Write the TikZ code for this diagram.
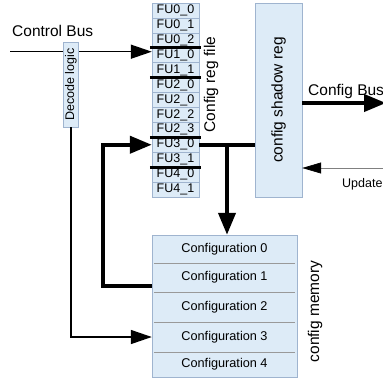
\documentclass[tikz,border=0pt]{standalone}
\usepackage{fontspec}
\setmainfont{Liberation Sans}
\usetikzlibrary{arrows.meta,positioning,calc}
\definecolor{cellfill}{HTML}{DDEBF7}
\definecolor{celldraw}{HTML}{9FB4CF}

\begin{document}
\begin{tikzpicture}[
    x=1pt, y=-1pt,
    cell/.style={rectangle, draw=celldraw, fill=cellfill, inner sep=0pt, minimum width=47pt, minimum height=14.92pt, font=\fontsize{12.5}{14}\selectfont},
    block/.style={rectangle, draw=celldraw, fill=cellfill, inner sep=0pt},
    memrow/.style={rectangle, inner sep=0pt, minimum width=145pt, font=\fontsize{12.7}{14}\selectfont},
    bigtext/.style={font=\fontsize{15.5}{18}\selectfont, inner sep=0pt},
    smalltext/.style={font=\fontsize{12.5}{14}\selectfont, inner sep=0pt},
    regsep/.style={line width=3pt},
    memsep/.style={draw=gray!80, line width=0.8pt},
    thinarrow/.style={-{Triangle[length=21pt,width=14pt]}, line width=1.5pt},
    thickline/.style={line width=4pt},
    thickarrow/.style={thickline, -{Triangle[length=22pt,width=17pt]}},
    updarrow/.style={draw=gray, line width=0.7pt, -{Triangle[length=19pt,width=11pt,black]}},
]
\useasboundingbox (0,0) rectangle (383,378);
\clip (0,0) rectangle (383,378);

% Config register file
\foreach \name [count=\i from 0] in {FU0\_0, FU0\_1, FU0\_2, FU1\_0, FU1\_1, FU2\_0, FU2\_0, FU2\_2, FU2\_3, FU3\_0, FU3\_1, FU4\_0, FU4\_1}
    \node[cell] (reg\i) at (175.5, {3+14.92*(\i+0.5)}) {\name};
\foreach \i in {2,4,8,10}
    \draw[regsep] ([xshift=-2pt]reg\i.south west) -- ([xshift=2pt]reg\i.south east);
\node[bigtext, rotate=90] (regtext) at (211,84.5) {Config reg file};

% Shadow register
\node[block, minimum width=47pt, minimum height=194pt] (shadow) at (278.5,100) {};
\node[bigtext, rotate=90] (shadowtext) at (shadow.center) {config shadow reg};

% Config memory
\node[block, minimum width=145pt, minimum height=142pt] (mem) at (224.5,306) {};
\foreach \i/\yc/\h in {0/249/28pt, 1/277.5/29pt, 2/307/30pt, 3/337/30pt, 4/364.5/25pt}
    \node[memrow, minimum height=\h] (mem\i) at (224.5,\yc) {Configuration \i};
\foreach \i in {0,...,3}
    \draw[memsep] ([xshift=2pt]mem\i.south west) -- ([xshift=-2pt]mem\i.south east);
\node[bigtext, rotate=90] (memtext) at (315,311.5) {config memory};

% Control bus and decode logic
\node[bigtext, anchor=base west] (ctrltext) at (12,36) {Control Bus};
\coordinate (ctrlin) at (10,51.7);
\draw[thinarrow] (ctrlin) -- (ctrlin -| reg3.west);
\node[block, minimum width=15pt, minimum height=85pt] (decode) at (71,84.5) {};
\node[smalltext, rotate=90] (decodetext) at (decode.center) {Decode logic};
\draw[thinarrow] (decode.south) |- (mem3.west);

% Load path: memory -> reg file -> shadow reg
\draw[thickarrow] ([yshift=-8pt]mem1.west) -- ++(-49,0) |- (reg9.west);
\coordinate (branch) at ($(reg9.east)!0.5!(reg9.east -| shadow.west)$);
\draw[thickline] (reg9.east) -- (reg9.east -| shadow.west);
\draw[thickarrow] (branch) -- (branch |- mem.north);

% Outputs
\node[bigtext, anchor=base west] (cbustext) at (308,95) {Config Bus};
\coordinate (cbusout) at (386,103);
\draw[thickarrow] (shadow.east |- cbusout) -- (cbusout);
\coordinate (updin) at (390,168);
\draw[updarrow] (updin) -- (updin -| shadow.east);
\node[smalltext, anchor=base west] (updtext) at (342,187) {Update};

\end{tikzpicture}
\end{document}
